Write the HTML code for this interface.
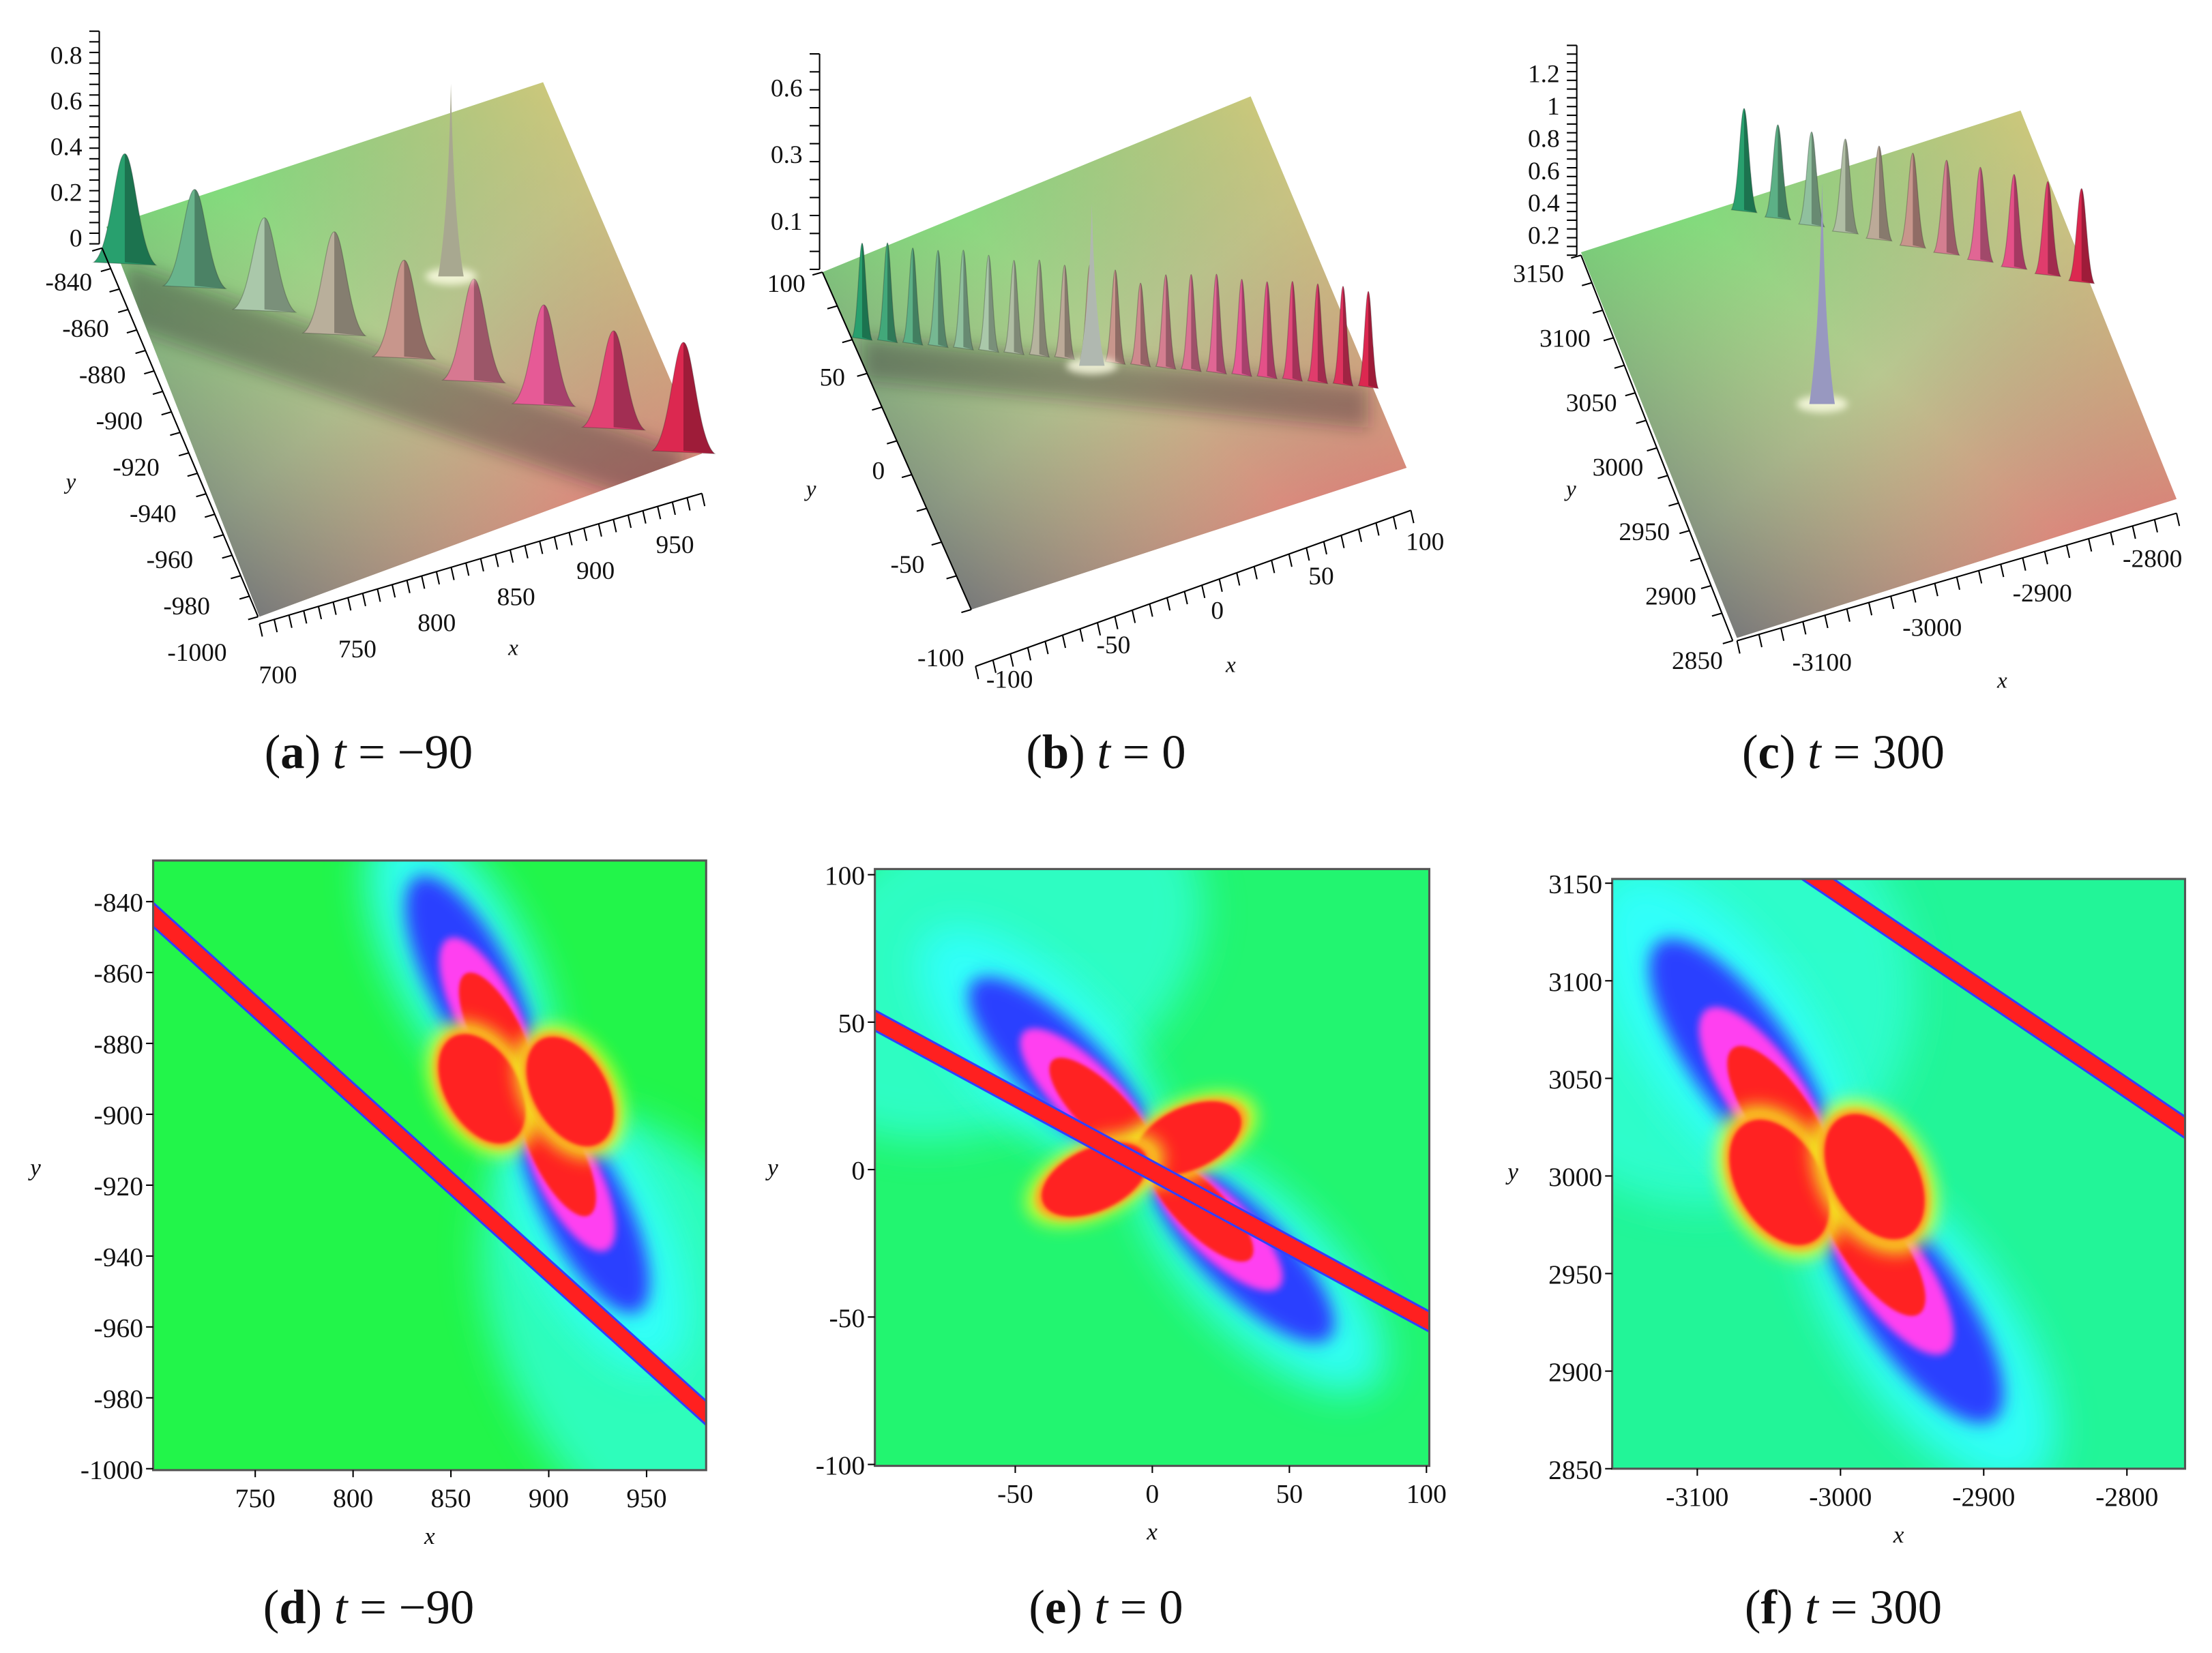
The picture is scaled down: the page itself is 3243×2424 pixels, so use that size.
<!DOCTYPE html>
<html><head><meta charset="utf-8"><style>
html,body{margin:0;padding:0;background:#fff;}
svg{display:block;}
text{font-family:"Liberation Serif",serif;fill:#111;}
</style></head><body>
<svg id="fig" xmlns="http://www.w3.org/2000/svg" width="3243" height="2424" viewBox="0 0 1560 1166" preserveAspectRatio="none">
<defs>
<filter id="blur1" x="-50%" y="-50%" width="200%" height="200%"><feGaussianBlur stdDeviation="1.2"/></filter>
<filter id="blur2" x="-50%" y="-50%" width="200%" height="200%"><feGaussianBlur stdDeviation="2.5"/></filter>
<filter id="blur6" x="-50%" y="-50%" width="200%" height="200%"><feGaussianBlur stdDeviation="6"/></filter>
<filter id="blur14" x="-50%" y="-50%" width="200%" height="200%"><feGaussianBlur stdDeviation="14"/></filter>
<linearGradient id="planeA" x1="0" y1="0" x2="1" y2="1"><stop offset="0" stop-color="#5fe870"/><stop offset="0.5" stop-color="#b8c890"/><stop offset="1" stop-color="#f06070"/></linearGradient>
<linearGradient id="planeB" x1="1" y1="0" x2="0" y2="1"><stop offset="0" stop-color="#f8d070" stop-opacity="0.9"/><stop offset="0.5" stop-color="#a0a080" stop-opacity="0"/><stop offset="1" stop-color="#405070" stop-opacity="0.95"/></linearGradient>
</defs>
<g id="root"></g>
</svg>
<script>
// ---- data ----
const panelTitles = ["(a)", "(b)", "(c)", "(d)", "(e)", "(f)"];
const panelTimes = ["−90", "0", "300", "−90", "0", "300"];
const aZTicks = ["0.8","0.6","0.4","0.2","0"];
const aYTicks = ["-840","-860","-880","-900","-920","-940","-960","-980","-1000"];
const aXTicks = ["700","750","800","850","900","950"];
const bZTicks = ["0.6","0.3","0.1"];
const bYTicks = ["100","50","0","-50","-100"];
const bXTicks = ["-100","-50","0","50","100"];
const cZTicks = ["1.2","1","0.8","0.6","0.4","0.2"];
const cYTicks = ["3150","3100","3050","3000","2950","2900","2850"];
const cXTicks = ["-3100","-3000","-2900","-2800"];
const aPeakHeights = [0.45,0.40,0.38,0.42,0.40,0.42,0.41,0.40,0.45];
const bPeakHeights = [0.35,0.36,0.35,0.35,0.36,0.35,0.34,0.35,0.34,0.35,0.34,0.30,0.34,0.35,0.36,0.35,0.35,0.36,0.36,0.36,0.35];
const cPeakHeights = [0.55,0.5,0.5,0.5,0.5,0.5,0.5,0.5,0.5,0.5,0.5];
const spikeHeights = [0.8, 0.6, 1.2];
const dYTicks = [-840,-860,-880,-900,-920,-940,-960,-980,-1000];
const dXTicks = [750,800,850,900,950];
const eYTicks = [100,50,0,-50,-100];
const eXTicks = [-50,0,50,100];
const fYTicks = [3150,3100,3050,3000,2950,2900,2850];
const fXTicks = [-3100,-3000,-2900,-2800];

const NS="http://www.w3.org/2000/svg";
const root=document.getElementById('root');
function el(tag,attrs,parent){const e=document.createElementNS(NS,tag);for(const k in attrs)e.setAttribute(k,attrs[k]);(parent||root).appendChild(e);return e;}
function txt(x,y,s,size,anchor,parent,style){const t=el('text',{x:x,y:y,'font-size':size,'text-anchor':anchor||'middle'},parent);if(style)t.setAttribute('font-style',style);t.textContent=s;return t;}

// ---- captions ----
const capPos=[[260,542],[780,542],[1300,542],[260,1145],[780,1145],[1300,1145]];
capPos.forEach((p,i)=>{
  const t=el('text',{x:p[0],y:p[1],'font-size':34,'text-anchor':'middle'});
  
  
  t.innerHTML='(<tspan font-weight="bold">'+String.fromCharCode(97+i)+'</tspan>) <tspan font-style="italic">t</tspan> = '+panelTimes[i];
});

let clipId=0;
// ---- 3D panels ----
function lerp(a,b,t){return [a[0]+(b[0]-a[0])*t,a[1]+(b[1]-a[1])*t];}
function colorAt(t){
  const c=[[40,160,110],[170,200,170],[200,150,140],[230,90,150],[220,40,80]];
  const f=t*(c.length-1),i=Math.min(Math.floor(f),c.length-2),u=f-i;
  return 'rgb('+c[i].map((v,k)=>Math.round(v+(c[i+1][k]-v)*u)).join(',')+')';
}
function panel3D(cfg,name){
  const g=el('g',{});
  
  
  const P=cfg.plane;
  const pts=P.map(p=>p.join(',')).join(' ');
  el('polygon',{points:pts,fill:'url(#planeA)'},g);
  el('polygon',{points:pts,fill:'url(#planeB)'},g);
  const A=cfg.rowA,B=cfg.rowB,sd=cfg.shadow||0;
  if(sd){
    const id='pclip'+(clipId++);
    const cp=el('clipPath',{id:id},g);el('polygon',{points:pts},cp);
    const sg=el('g',{'clip-path':`url(#${id})`},g);
    el('polygon',{points:`${A[0]},${A[1]} ${B[0]},${B[1]} ${B[0]},${B[1]+sd} ${A[0]},${A[1]+sd}`,fill:'rgba(40,30,40,0.35)',filter:'url(#blur6)'},sg);
  }
  const n=cfg.peaks.length;
  for(let i=0;i<n;i++){
    const t=n===1?0:i/(n-1);
    const b=lerp(cfg.rowA,cfg.rowB,t);
    const h=cfg.peaks[i]*cfg.zScale, w=cfg.peakW;
    const pk=el('path',{d:`M${b[0]-w},${b[1]} C${b[0]-w*0.45},${b[1]-h*0.1} ${b[0]-w*0.3},${b[1]-h} ${b[0]},${b[1]-h} C${b[0]+w*0.3},${b[1]-h} ${b[0]+w*0.45},${b[1]-h*0.1} ${b[0]+w},${b[1]+2} Z`,fill:colorAt(t),stroke:'rgba(40,40,40,0.3)','stroke-width':0.6},g);
    
    
    el('path',{d:`M${b[0]},${b[1]-h} C${b[0]+w*0.3},${b[1]-h} ${b[0]+w*0.45},${b[1]-h*0.1} ${b[0]+w},${b[1]+2} L${b[0]},${b[1]} Z`,fill:'rgba(0,0,0,0.28)'},g);
  }
  const s=cfg.spike, sh=cfg.spikeH*cfg.zScale;
  el('ellipse',{cx:s[0],cy:s[1],rx:18,ry:6,fill:'rgba(255,255,230,0.8)',filter:'url(#blur2)'},g);
  const sp=el('path',{d:`M${s[0]-9},${s[1]} Q${s[0]-2},${s[1]-sh*0.3} ${s[0]},${s[1]-sh} Q${s[0]+2},${s[1]-sh*0.3} ${s[0]+9},${s[1]} Z`,fill:cfg.spikeColor},g);
  
  
  const ax=el('g',{stroke:'#000','stroke-width':1,fill:'none'},g);
  el('line',{x1:cfg.zAxis[0][0],y1:cfg.zAxis[0][1],x2:cfg.zAxis[1][0],y2:cfg.zAxis[1][1]},ax);
  el('line',{x1:cfg.yAxis[0][0],y1:cfg.yAxis[0][1],x2:cfg.yAxis[1][0],y2:cfg.yAxis[1][1]},ax);
  el('line',{x1:cfg.xAxis[0][0],y1:cfg.xAxis[0][1],x2:cfg.xAxis[1][0],y2:cfg.xAxis[1][1]},ax);
  const minor=(A,B,k,dx,dy)=>{for(let i=0;i<=k;i++){const p=lerp(A,B,i/k);el('line',{x1:p[0],y1:p[1],x2:p[0]+dx,y2:p[1]+dy},ax);}};
  minor(cfg.zAxis[0],cfg.zAxis[1],cfg.zTicks.length*4,-7,0);
  minor(cfg.yAxis[0],cfg.yAxis[1],cfg.yTicks.length*2,-7,2);
  minor(cfg.xAxis[0],cfg.xAxis[1],cfg.xTicks.length*5,2,9);
  const lab=(arr,A,B,anchor,nm)=>{arr.forEach((s,i)=>{const p=lerp(A,B,arr.length===1?0:i/(arr.length-1));const t=txt(p[0],p[1],s,18,anchor,g);});};
  lab(cfg.zTicks,cfg.zLab[0],cfg.zLab[1],'end','z-tick-label');
  lab(cfg.yTicks,cfg.yLab[0],cfg.yLab[1],'end','y-tick-label');
  lab(cfg.xTicks,cfg.xLab[0],cfg.xLab[1],'middle','x-tick-label');
  const xt=txt(cfg.xName[0],cfg.xName[1],'x',16,'middle',g,'italic');
  const yt=txt(cfg.yName[0],cfg.yName[1],'y',16,'middle',g,'italic');
}
panel3D({plane:[[75,160],[383,58],[495,320],[183,435]],rowA:[88,185],rowB:[482,318],peaks:aPeakHeights,zScale:170,peakW:22,shadow:45,
  spike:[318,195],spikeH:spikeHeights[0],spikeColor:'#a8a890',
  zAxis:[[70,22],[70,172]],yAxis:[[72,175],[182,435]],xAxis:[[183,440],[495,348]],
  zTicks:aZTicks,yTicks:aYTicks,xTicks:aXTicks,
  zLab:[[58,45],[58,174]],yLab:[[65,205],[160,466]],xLab:[[196,482],[476,390]],
  xName:[362,462],yName:[50,345]},'surface-plot-a');
panel3D({plane:[[580,192],[882,68],[992,330],[685,430]],rowA:[608,238],rowB:[965,272],peaks:bPeakHeights,zScale:190,peakW:7,shadow:30,
  spike:[770,258],spikeH:spikeHeights[1],spikeColor:'#b0b8b0',
  zAxis:[[578,38],[578,190]],yAxis:[[580,192],[685,430]],xAxis:[[688,470],[995,360]],
  zTicks:bZTicks,yTicks:bYTicks,xTicks:bXTicks,
  zLab:[[566,68],[566,162]],yLab:[[568,206],[680,470]],xLab:[[712,485],[1005,388]],
  xName:[868,474],yName:[572,350]},'surface-plot-b');
panel3D({plane:[[1115,178],[1425,78],[1535,352],[1225,450]],rowA:[1230,148],rowB:[1468,198],peaks:cPeakHeights,zScale:130,peakW:9,shadow:0,
  spike:[1285,285],spikeH:spikeHeights[2],spikeColor:'#9898c0',
  zAxis:[[1112,32],[1112,180]],yAxis:[[1115,180],[1222,452]],xAxis:[[1225,452],[1535,362]],
  zTicks:cZTicks,yTicks:cYTicks,xTicks:cXTicks,
  zLab:[[1100,58],[1100,172]],yLab:[[1103,199],[1215,472]],xLab:[[1285,473],[1518,400]],
  xName:[1412,485],yName:[1108,350]},'surface-plot-c');

// ---- density panels ----
function ellipse(g,cx,cy,rx,ry,ang,fill,filter,op){const e=el('ellipse',{cx:cx,cy:cy,rx:rx,ry:ry,fill:fill,transform:`rotate(${ang} ${cx} ${cy})`},g);if(filter)e.setAttribute('filter',filter);if(op!=null)e.setAttribute('opacity',op);return e;}
function blueLobe(g,C,ang,L,W){
  const r=ang*Math.PI/180,ux=Math.cos(r),uy=Math.sin(r);
  const at=(d)=>[C[0]+ux*d,C[1]+uy*d];
  let p=at(L*1.15);ellipse(g,p[0],p[1],L*1.2,W*1.7,ang,'#30ffff','url(#blur14)',0.9);
  p=at(L*0.95);ellipse(g,p[0],p[1],L*0.92,W*1.05,ang,'#2a40ff','url(#blur6)');
  p=at(L*0.68);ellipse(g,p[0],p[1],L*0.66,W*0.78,ang,'#ff40f0','url(#blur2)');
  p=at(L*0.52);ellipse(g,p[0],p[1],L*0.52,W*0.62,ang,'#ff2020','url(#blur1)');
}
function redLobe(g,cx,cy,rx,ry,ang){
  ellipse(g,cx,cy,rx*1.3,ry*1.22,ang,'#f0ff20','url(#blur6)',0.85);
  ellipse(g,cx,cy,rx*1.12,ry*1.08,ang,'#ffa020','url(#blur2)');
  ellipse(g,cx,cy,rx,ry,ang,'#ff2020','url(#blur1)');
}
function density(cfg,name){
  const g=el('g',{});
  
  
  const [x0,y0,x1,y1]=cfg.frame;
  const id='clip'+(clipId++);
  const cp=el('clipPath',{id:id},g);el('rect',{x:x0,y:y0,width:x1-x0,height:y1-y0},cp);
  const inner=el('g',{'clip-path':`url(#${id})`},g);
  el('rect',{x:x0,y:y0,width:x1-x0,height:y1-y0,fill:cfg.bg},inner);
  if(cfg.tint) ellipse(inner,cfg.tint[0],cfg.tint[1],cfg.tint[2],cfg.tint[3],cfg.tint[4],'#30ffd8','url(#blur14)',0.8);
  const C=cfg.center;
  blueLobe(inner,C,cfg.blueAng,cfg.L,cfg.W);
  blueLobe(inner,C,cfg.blueAng+180,cfg.L,cfg.W);
  cfg.red.forEach(r=>redLobe(inner,r[0],r[1],r[2],r[3],r[4]));
  const b=cfg.band;
  el('line',{x1:b[0],y1:b[1],x2:b[2],y2:b[3],stroke:'#3040ff','stroke-width':cfg.bw+3},inner);
  const bl=el('line',{x1:b[0],y1:b[1],x2:b[2],y2:b[3],stroke:'#ff2020','stroke-width':cfg.bw},inner);
  
  
  el('rect',{x:x0,y:y0,width:x1-x0,height:y1-y0,fill:'none',stroke:'#555','stroke-width':1.5},g);
  const sy=(v)=>cfg.yMap[0]+(v-cfg.yMapV[0])*(cfg.yMap[1]-cfg.yMap[0])/(cfg.yMapV[1]-cfg.yMapV[0]);
  const sx=(v)=>cfg.xMap[0]+(v-cfg.xMapV[0])*(cfg.xMap[1]-cfg.xMap[0])/(cfg.xMapV[1]-cfg.xMapV[0]);
  cfg.yTicks.forEach(v=>{const y=sy(v);el('line',{x1:x0-5,y1:y,x2:x0,y2:y,stroke:'#000'},g);
    const t=txt(x0-7,y+7,v<0?'-'+(-v):String(v),19,'end',g);});
  cfg.xTicks.forEach(v=>{const x=sx(v);el('line',{x1:x,y1:y1,x2:x,y2:y1+5,stroke:'#000'},g);
    const t=txt(x,y1+26,v<0?'-'+(-v):String(v),19,'middle',g);});
  const xt=txt((x0+x1)/2,y1+52,'x',17,'middle',g,'italic');
  const yt=txt(cfg.yName[0],cfg.yName[1],'y',17,'middle',g,'italic');
}
density({frame:[108,607,498,1037],bg:'#22f54a',tint:[470,950,110,180,-30],center:[372,772],blueAng:-117,L:92,W:28,
  red:[[340,768,26,42,-30],[402,770,26,42,-30]],band:[100,638,505,1003],bw:11,
  yMap:[636,1036],yMapV:[-840,-1000],xMap:[180,456],xMapV:[750,950],yTicks:dYTicks,xTicks:dXTicks,yName:[25,829]},'density-plot-d');
density({frame:[617,613,1008,1034],bg:'#22f570',tint:[700,680,160,110,-30],center:[812,818],blueAng:-135,L:95,W:28,
  red:[[838,803,40,22,-25],[772,832,40,22,-25]],band:[610,716,1015,936],bw:11,
  yMap:[617,1033],yMapV:[100,-100],xMap:[716,1006],xMapV:[-50,100],yTicks:eYTicks,xTicks:eXTicks,yName:[545,829]},'density-plot-e');
density({frame:[1137,620,1541,1036],bg:'#22f598',tint:[1200,700,150,150,0],center:[1288,833],blueAng:-125,L:110,W:34,
  red:[[1255,834,30,48,-30],[1322,830,30,48,-30]],band:[1270,612,1548,800],bw:11,
  yMap:[623,1036],yMapV:[3150,2850],xMap:[1197,1500],xMapV:[-3100,-2800],yTicks:fYTicks,xTicks:fXTicks,yName:[1067,832]},'density-plot-f');
</script>
</body></html>
